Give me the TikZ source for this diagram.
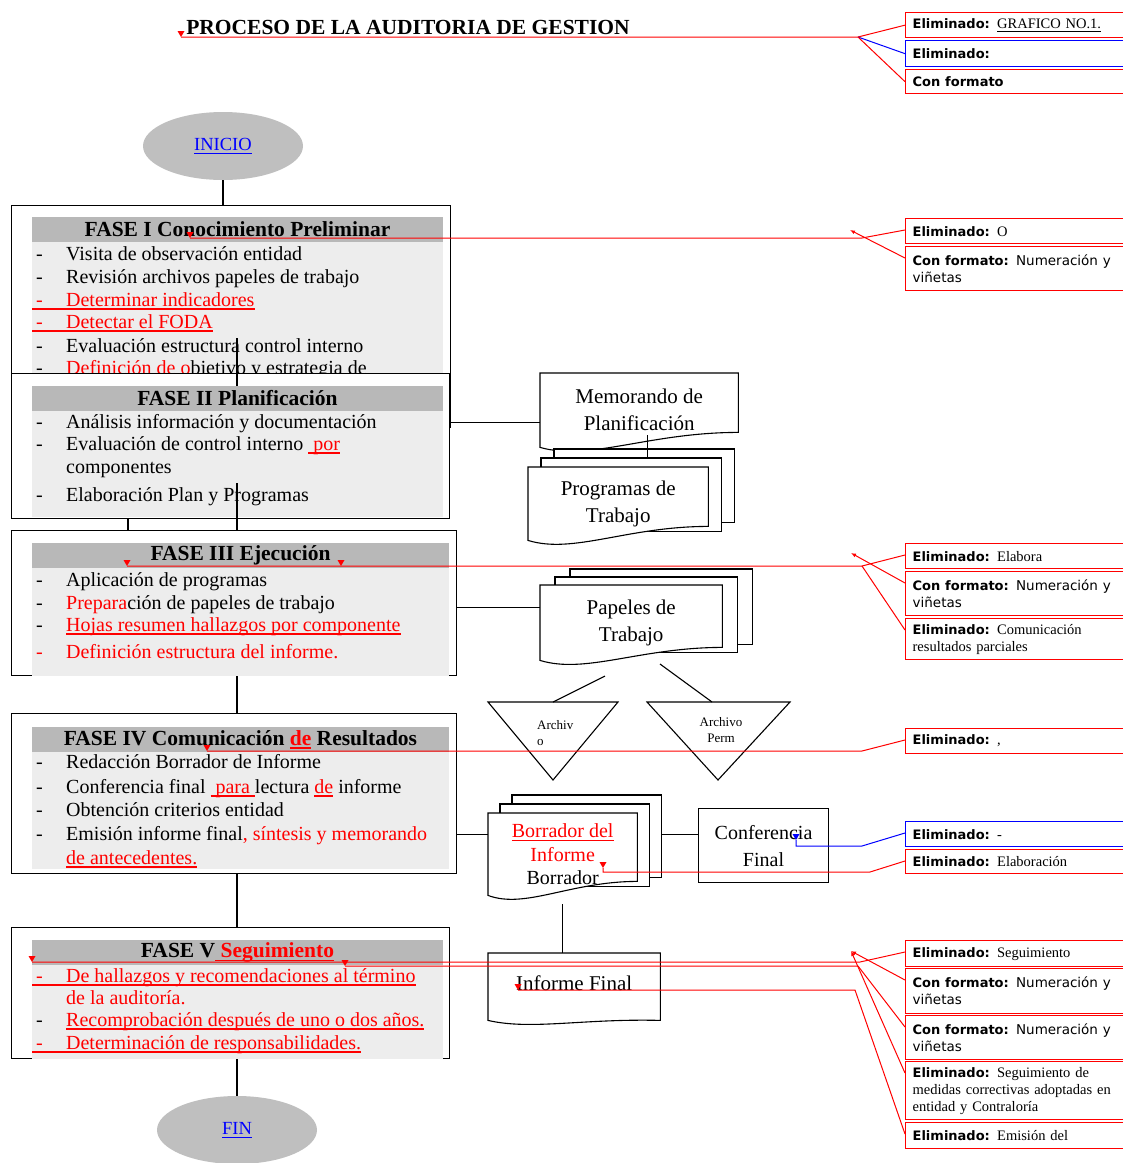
\documentclass[tikz,border=0pt]{standalone}
\usepackage{fontspec}
\setmainfont{Liberation Serif}
\newfontfamily\cmtsans{DejaVu Sans}
\usetikzlibrary{arrows.meta,positioning,calc,shapes.geometric}
\pgfdeclarelayer{bg}
\pgfsetlayers{bg,main}

\newcommand{\uln}[1]{\leavevmode\setbox0\hbox{#1}\rlap{\vrule width \wd0 height -2.4pt depth 3.8pt}\box0}
\newcommand{\dsh}{\makebox[30pt][l]{-}}
\newcommand{\cb}[1]{{\cmtsans\bfseries\fontsize{13}{17}\selectfont #1}}
\newcommand{\cs}[1]{{\cmtsans\fontsize{13.5}{17}\selectfont #1}}
% document sheet with wavy bottom, #2 = rise of the right end
\newcommand{\docoutline}[2]{%
  \draw[docline] (#1.south west) -- (#1.north west) -- (#1.north east)
    -- ([yshift=#2pt]#1.south east)
    .. controls ($(#1.south west)!0.55!(#1.south east)+(0,-#2)$) and ($(#1.south west)!0.25!(#1.south east)+(0,14)$) .. (#1.south west) -- cycle;}
\newcommand{\backpages}[3]{%
  \foreach \k in {2,1}{%
    \draw[docline] ([xshift={\k*#2pt},yshift={\k*#3pt}]#1.north west) rectangle ([xshift={\k*#2pt},yshift={\k*#3pt}]#1.south east);}}
\newcommand{\chgmark}[2][red]{\fill[#1] ([xshift=-3.5pt,yshift=6pt]#2) -- ([xshift=3.5pt,yshift=6pt]#2) -- (#2) -- cycle;}

\begin{document}
\begin{tikzpicture}[x=1pt, y=-1pt,
    fasebox/.style={draw, line width=1.3pt, fill=white, anchor=north west, inner sep=0pt},
    panel/.style={fill=gray!14},
    hdr/.style={fill=gray!56, minimum height=25pt, inner sep=0pt, font=\fontsize{21.5}{24}\selectfont\bfseries},
    itm/.style={anchor=base west, inner sep=0pt, font=\fontsize{20}{23}\selectfont},
    ul/.style={red, line width=1.4pt},
    term/.style={ellipse, fill=gray!50, minimum width=160pt, minimum height=68pt, inner sep=0pt, text=blue, font=\fontsize{18.5}{20}\selectfont},
    docline/.style={draw, line width=1.1pt, fill=white},
    doc/.style={anchor=north west, inner sep=0pt, align=center, font=\fontsize{21}{27}\selectfont},
    arcvo/.style={inner sep=0pt, font=\fontsize{13}{16}\selectfont},
    conn/.style={line width=1.1pt},
    cmt/.style={draw=red, line width=1.3pt, anchor=north west, text width=212pt, inner xsep=7pt, inner ysep=0pt, align=left, font=\fontsize{14.5}{17}\selectfont},
    chg/.style={red, line width=1pt},
    chgb/.style={blue, line width=1pt},
    ptr/.style={red, line width=1pt, {Latex[length=5pt,width=4pt]}-}
  ]
  \useasboundingbox (0,0) rectangle (1123,1163);
  \clip (0,0) rectangle (1123,1163);

  \node[font=\fontsize{21.5}{24}\selectfont\bfseries, inner sep=0pt] (title) at (408,27) {PROCESO DE LA AUDITORIA DE GESTION};
  \node[term] (ini) at (223,146) {\uln{INICIO}};

  % fase I
  \node[fasebox, minimum width=439pt, minimum height=222pt] (f1) at (11,205) {};
  \fill[panel] (32,217) rectangle (443,400);
  \node[hdr, minimum width=411pt] (h1) at (237.5,229.5) {FASE I Conocimiento Preliminar};
  \node[itm] (f1a) at (36,260) {\dsh Visita de observación entidad};
  \node[itm] (f1b) at (36,283) {\dsh Revisión archivos papeles de trabajo};
  \node[itm, red] (f1c) at (36,306) {\dsh Determinar indicadores};
  \node[itm, red] (f1d) at (36,328) {\dsh Detectar el FODA};
  \node[itm] (f1e) at (36,352) {\dsh Evaluación estructura control interno};
  \node[itm] (f1f) at (36,374) {\dsh\textcolor{red}{Definición de o}bjetivo y estrategia de};
  \draw[ul] ([xshift=-4pt,yshift=-3.1pt]f1c.base west) -- ([yshift=-3.1pt]f1c.base east);
  \draw[ul] ([xshift=-4pt,yshift=-3.1pt]f1d.base west) -- ([yshift=-3.1pt]f1d.base east);

  % fase II
  \node[fasebox, minimum width=438pt, minimum height=145pt] (f2) at (11,373) {};
  \fill[panel] (32,386) rectangle (443,517);
  \node[hdr, minimum width=411pt] (h2) at (237.5,398.5) {FASE II Planificación};
  \node[itm] (f2a) at (36,428) {\dsh Análisis información y documentación};
  \node[itm] (f2b) at (36,450) {\dsh Evaluación de control interno \textcolor{red}{\uln{ por}}};
  \node[itm] (f2c) at (66,473) {componentes};
  \node[itm] (f2d) at (36,501) {\dsh Elaboración Plan y Programas};

  % fase III
  \node[fasebox, minimum width=445pt, minimum height=145pt] (f3) at (11,530) {};
  \fill[panel] (32,543) rectangle (449,676);
  \node[hdr, minimum width=417pt] (h3) at (240.5,555.5) {FASE III Ejecución};
  \node[itm] (f3a) at (36,586) {\dsh Aplicación de programas};
  \node[itm] (f3b) at (36,609) {\dsh\textcolor{red}{Prepara}ción de papeles de trabajo};
  \node[itm] (f3c) at (36,631) {\dsh\textcolor{red}{\uln{Hojas resumen hallazgos por componente}}};
  \node[itm, red] (f3d) at (36,658) {\dsh Definición estructura del informe.};

  % fase IV
  \node[fasebox, minimum width=445pt, minimum height=160pt] (f4) at (11,713) {};
  \fill[panel] (32,727) rectangle (449,869);
  \node[hdr, minimum width=417pt] (h4) at (240.5,739.5) {FASE IV Comunicación \textcolor{red}{\uln{de}} Resultados};
  \node[itm] (f4a) at (36,768) {\dsh Redacción Borrador de Informe};
  \node[itm] (f4b) at (36,793) {\dsh Conferencia final \textcolor{red}{\uln{ para }}lectura \textcolor{red}{\uln{de}} informe};
  \node[itm] (f4c) at (36,816) {\dsh Obtención criterios entidad};
  \node[itm] (f4d) at (36,840) {\dsh Emisión informe final\textcolor{red}{, síntesis y memorando}};
  \node[itm, red] (f4e) at (66,864) {\uln{de antecedentes.}};

  % fase V
  \node[fasebox, minimum width=438pt, minimum height=131pt] (f5) at (11,927) {};
  \fill[panel] (32,940) rectangle (443,1059);
  \node[hdr, minimum width=411pt] (h5) at (237.5,952.5) {FASE V\textcolor{red}{\uln{ Seguimiento}}};
  \node[itm, red] (f5a) at (36,982) {\dsh De hallazgos y recomendaciones al término};
  \node[itm, red] (f5b) at (66,1004) {de la auditoría.};
  \node[itm] (f5c) at (36,1026) {\dsh\textcolor{red}{\uln{Recomprobación después de uno o dos años.}}};
  \node[itm, red] (f5d) at (36,1049) {\dsh Determinación de responsabilidades.};
  \draw[ul] ([xshift=-4pt,yshift=-3.1pt]f5a.base west) -- ([yshift=-3.1pt]f5a.base east);
  \draw[ul] ([xshift=-4pt,yshift=-3.1pt]f5d.base west) -- ([yshift=-3.1pt]f5d.base east);

  \node[term] (fin) at (237,1130) {\uln{FIN}};

  % flow between phases
  \coordinate (v12) at (237,338);
  \coordinate (v23) at (237,483);
  \coordinate (v23b) at (128,518);
  \draw[conn] (ini.south) -- (ini.south |- f1.north);
  \draw[conn] (v12) -- (v12 |- h2.north);
  \draw[conn] (v23) -- (v23 |- f3.north);
  \draw[conn] (v23b) -- (v23b |- f3.north);
  \draw[conn] (f3.south -| v23) -- (f4.north -| v23);
  \draw[conn] (f4.south -| v23) -- (f5.north -| v23);
  \draw[conn] (f5.south -| fin.north) -- (fin.north);

  % documents
  \node[doc, minimum width=198pt, minimum height=74pt] (memo) at (540,373) {Memorando de\\Planificación};
  \node[doc, minimum width=180pt, minimum height=73pt] (prog) at (528,467) {Programas de\\Trabajo};
  \node[doc, minimum width=182pt, minimum height=75pt] (pap) at (540,585) {Papeles de\\Trabajo};
  \node[doc, minimum width=149pt, minimum height=82pt, font=\fontsize{20}{23.5}\selectfont] (bor) at (488,813) {\textcolor{red}{\uln{Borrador del}}\\\textcolor{red}{Informe}\\Borrador};
  \node[doc, minimum width=172pt, minimum height=60pt] (inf) at (488,953) {Informe Final};
  \begin{pgfonlayer}{bg}
    \docoutline{memo}{15}
    \backpages{prog}{13}{9}
    \docoutline{prog}{14}
    \backpages{pap}{15}{8}
    \docoutline{pap}{13}
    \backpages{bor}{12}{9}
    \docoutline{bor}{14}
    \draw[docline] (inf.south west) -- (inf.north west) -- (inf.north east) -- ([yshift=-7pt]inf.south east)
      .. controls ($(inf.south west)!0.55!(inf.south east)+(0,5)$) and ($(inf.south west)!0.25!(inf.south east)+(0,17)$) .. ([yshift=-7pt]inf.south west) -- cycle;
  \end{pgfonlayer}
  \node[draw, line width=1.1pt, minimum width=130pt, minimum height=74pt, anchor=north west, align=center, inner sep=0pt, font=\fontsize{20}{27}\selectfont] (conf) at (698,808) {Conferencia\\Final};

  % archivos
  \coordinate (arcl) at (553,702);
  \coordinate (arcr) at (712,702);
  \draw[docline] (488,702) -- (618,702) -- (553,780) -- cycle;
  \draw[docline] (647,702) -- (790,702) -- (718,780) -- cycle;
  \node[arcvo, align=left, anchor=west] (arclt) at (537,733) {Archiv\\o};
  \node[arcvo, align=center] (arcrt) at (721,730) {Archivo\\Perm};

  % links to documents
  \coordinate (min) at ([yshift=-12pt]memo.west);
  \coordinate (mout) at ([xshift=8pt,yshift=12pt]memo.south);
  \coordinate (pmid) at ([yshift=9pt]prog.north);
  \coordinate (pin) at ([yshift=15pt]pap.west);
  \coordinate (pa) at (605,676);
  \coordinate (pb) at (660,664);
  \coordinate (bin) at ([yshift=20pt]bor.west);
  \coordinate (bout) at ([xshift=24pt,yshift=20pt]bor.east);
  \coordinate (bdown) at ([yshift=-9pt]bor.south);
  \draw[conn] (f2.east |- min) -- (min);
  \draw[conn] (mout) -- (mout |- pmid);
  \draw[conn] (f3.east |- pin) -- (pin);
  \draw[conn] (pa) -- (arcl);
  \draw[conn] (pb) -- (arcr);
  \draw[conn] (f4.east |- bin) -- (bin);
  \draw[conn] (bout) -- (bout -| conf.west);
  \draw[conn] (bdown) -- (bdown |- inf.north);

  % comment balloons
  \node[cmt, minimum height=25pt] (cm1) at (905,12) {\cb{Eliminado:} \uln{GRAFICO NO.1.}};
  \node[cmt, draw=blue, minimum height=26pt] (cm2) at (905,40) {\cb{Eliminado:}};
  \node[cmt, minimum height=24pt] (cm3) at (905,69) {\cb{Con formato}};
  \node[cmt, minimum height=25pt] (cm4) at (905,218) {\cb{Eliminado:} O};
  \node[cmt, minimum height=44pt] (cm5) at (905,246) {\cb{Con formato:} \cs{Numeración y}\\\cs{viñetas}};
  \node[cmt, minimum height=25pt] (cm6) at (905,543) {\cb{Eliminado:} Elabora};
  \node[cmt, minimum height=44pt] (cm7) at (905,571) {\cb{Con formato:} \cs{Numeración y}\\\cs{viñetas}};
  \node[cmt, minimum height=41pt] (cm8) at (905,618) {\cb{Eliminado:} Comunicación\\resultados parciales};
  \node[cmt, minimum height=25pt] (cm9) at (905,728) {\cb{Eliminado:} ,};
  \node[cmt, draw=blue, minimum height=25pt] (cm10) at (905,821) {\cb{Eliminado:} -};
  \node[cmt, minimum height=24pt] (cm11) at (905,849) {\cb{Eliminado:} Elaboración};
  \node[cmt, minimum height=26pt] (cm12) at (905,940) {\cb{Eliminado:} Seguimiento};
  \node[cmt, minimum height=45pt] (cm13) at (905,968) {\cb{Con formato:} \cs{Numeración y}\\\cs{viñetas}};
  \node[cmt, minimum height=44pt] (cm14) at (905,1015) {\cb{Con formato:} \cs{Numeración y}\\\cs{viñetas}};
  \node[cmt, minimum height=58pt] (cm15) at (905,1061) {\cb{Eliminado:} Seguimiento de\\medidas correctivas adoptadas en\\entidad y Contraloría};
  \node[cmt, minimum height=26pt] (cm16) at (905,1122) {\cb{Eliminado:} Emisión del};

  % change marks
  \coordinate (mk0) at (181,37);
  \coordinate (jn0) at (858,37);
  \chgmark{mk0}
  \draw[chg] (mk0) -- (jn0) -- (cm1.west);
  \draw[chgb] (jn0) -- (cm2.west);
  \draw[chg] (jn0) -- (cm3.west);

  \coordinate (mk1) at (190,238);
  \coordinate (jn1) at (862,238);
  \coordinate (pt1) at (850,230);
  \chgmark{mk1}
  \draw[chg] (mk1) -- (jn1) -- ([yshift=-12pt]cm4.north west);
  \draw[ptr] (pt1) -- ([yshift=-12pt]cm5.north west);

  \coordinate (mk3) at (127,566);
  \coordinate (mk3b) at (341,566);
  \coordinate (jn3) at (862,566);
  \coordinate (pt3) at (851,553);
  \chgmark{mk3}
  \chgmark{mk3b}
  \draw[chg] (mk3) -- (jn3) -- ([yshift=-12pt]cm6.north west);
  \draw[chg] (jn3) -- ([yshift=-12pt]cm8.north west);
  \draw[ptr] (pt3) -- ([yshift=-12pt]cm7.north west);

  \coordinate (mk4) at (207,751);
  \coordinate (jn4) at (862,751);
  \chgmark{mk4}
  \draw[chg] (mk4) -- (jn4) -- ([yshift=-12pt]cm9.north west);

  \coordinate (mk10) at (796,840);
  \coordinate (jn10) at (862,846);
  \chgmark[blue]{mk10}
  \draw[chgb] (mk10) |- (jn10) -- ([yshift=-12pt]cm10.north west);

  \coordinate (mk11) at (603,868);
  \coordinate (jn11) at (870,872);
  \chgmark{mk11}
  \draw[chg] (mk11) |- (jn11) -- ([yshift=-12pt]cm11.north west);

  \coordinate (mk12) at (32,962);
  \coordinate (jn12) at (860,962);
  \coordinate (mk12b) at (345,966);
  \coordinate (jn12b) at (858,966);
  \coordinate (mk12c) at (518,990);
  \coordinate (jn12c) at (855,990);
  \coordinate (pt12) at (851,951);
  \chgmark{mk12}
  \chgmark{mk12b}
  \chgmark{mk12c}
  \draw[chg] (mk12) -- (jn12) -- ([yshift=-12pt]cm12.north west);
  \draw[chg] (mk12b) -- (jn12b) -- ([yshift=-12pt]cm14.north west);
  \draw[chg] (mk12c) -- (jn12c) -- ([yshift=-12pt]cm16.north west);
  \draw[ptr] (pt12) -- ([yshift=-12pt]cm13.north west);
  \draw[ptr] (pt12) -- ([yshift=-12pt]cm15.north west);
\end{tikzpicture}
\end{document}
